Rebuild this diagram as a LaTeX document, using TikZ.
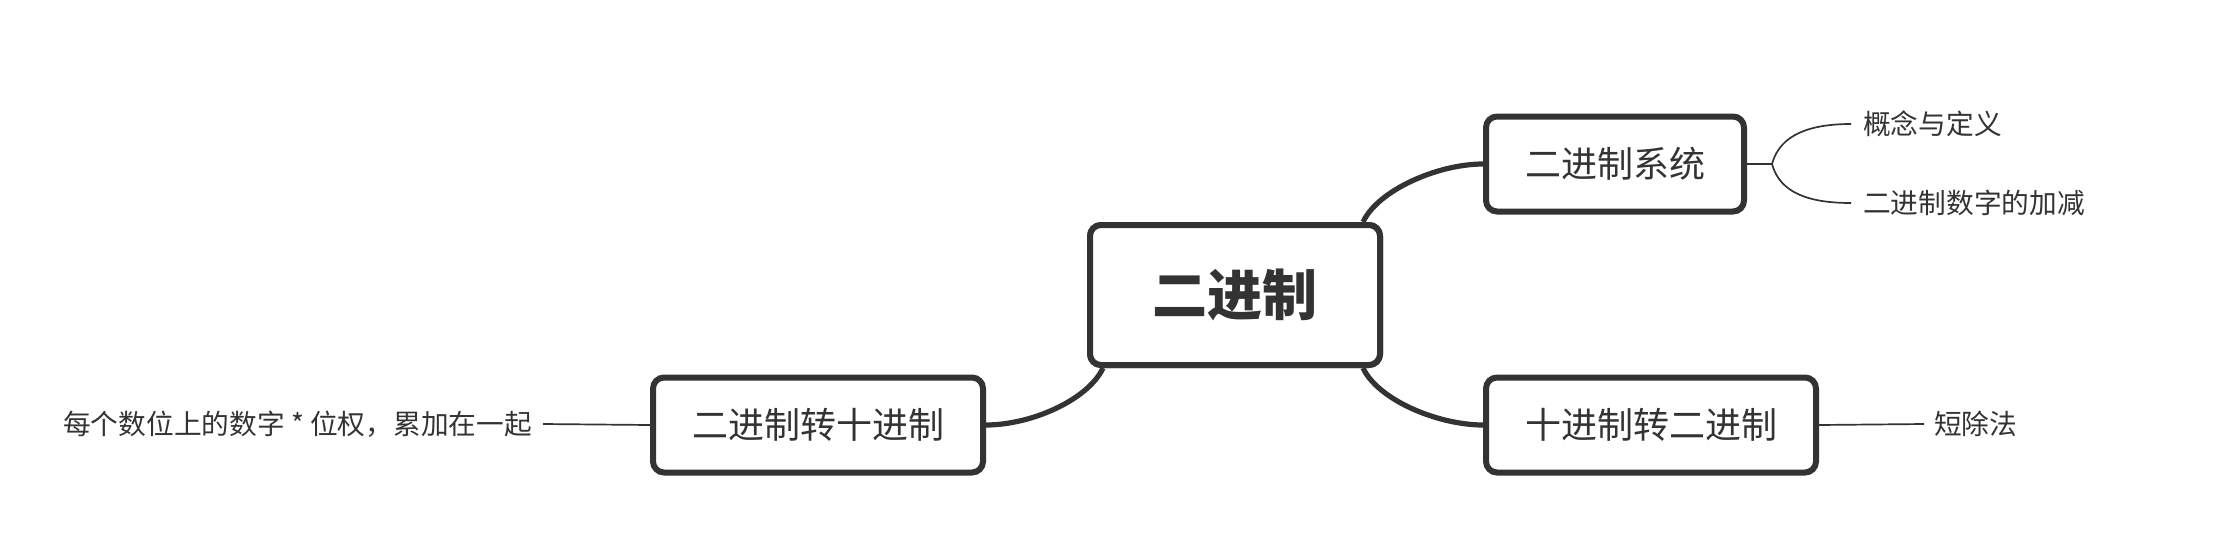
\documentclass[tikz,border=0pt]{standalone}
\usepackage{fontspec}
\newfontfamily\cjk{Noto Sans CJK SC}
\definecolor{ink}{HTML}{333333}
\begin{document}
\begin{tikzpicture}[x=1pt,y=-1pt,
  box/.style={draw=ink,line width=6pt,rounded corners=11pt,fill=white,text=ink,inner sep=0pt},
  mainbox/.style={box,minimum width=290pt,minimum height=140pt,font=\cjk\bfseries\fontsize{55}{60}\selectfont},
  subbox/.style={box,minimum height=95pt,font=\cjk\fontsize{36}{40}\selectfont},
  leaf/.style={anchor=west,inner sep=0pt,text=ink,font=\cjk\fontsize{27.7}{30}\selectfont},
  leafr/.style={anchor=east,inner sep=0pt,text=ink,font=\cjk\fontsize{27.7}{30}\selectfont},
  link/.style={draw=ink,line width=5.2pt},
  thin/.style={draw=ink,line width=1.7pt}]
\useasboundingbox (0,0) rectangle (2213,536);
\node[mainbox] (c) at (1235,295) {二进制};
\node[subbox,minimum width=258pt] (a) at (1615,164) {二进制系统};
\node[subbox,minimum width=330pt] (b) at (1651,425) {十进制转二进制};
\node[subbox,minimum width=330pt] (d) at (818,425) {二进制转十进制};
\node[leaf] (a1) at (1863,124) {概念与定义};
\node[leaf] (a2) at (1863,203) {二进制数字的加减};
\node[leaf] (b1) at (1934,424) {短除法};
\node[leafr] (d1) at (532,424) {每个数位上的数字 * 位权，累加在一起};
\coordinate (j) at (1772,164);
% main connectors
\draw[link] ([xshift=-20pt]c.north east) .. controls +(15,-32) and +(-45,0) .. (a.west);
\draw[link] ([xshift=-20pt]c.south east) .. controls +(15,32) and +(-45,0) .. (b.west);
\draw[link] ([xshift=16pt]c.south west) .. controls +(-15,32) and +(45,0) .. (d.east);
\node[mainbox] at (c) {二进制};
% leaf connectors
\draw[thin] (a.east) -- (j);
\draw[thin] (j) .. controls +(8,-30) and +(-40,0) .. ([xshift=-12pt]a1.west);
\draw[thin] (j) .. controls +(8,30) and +(-40,0) .. ([xshift=-12pt]a2.west);
\draw[thin] (b.east) -- ([xshift=-10pt]b1.west);
\draw[thin] (d.west) -- ([xshift=11pt]d1.east);
\end{tikzpicture}
\end{document}
